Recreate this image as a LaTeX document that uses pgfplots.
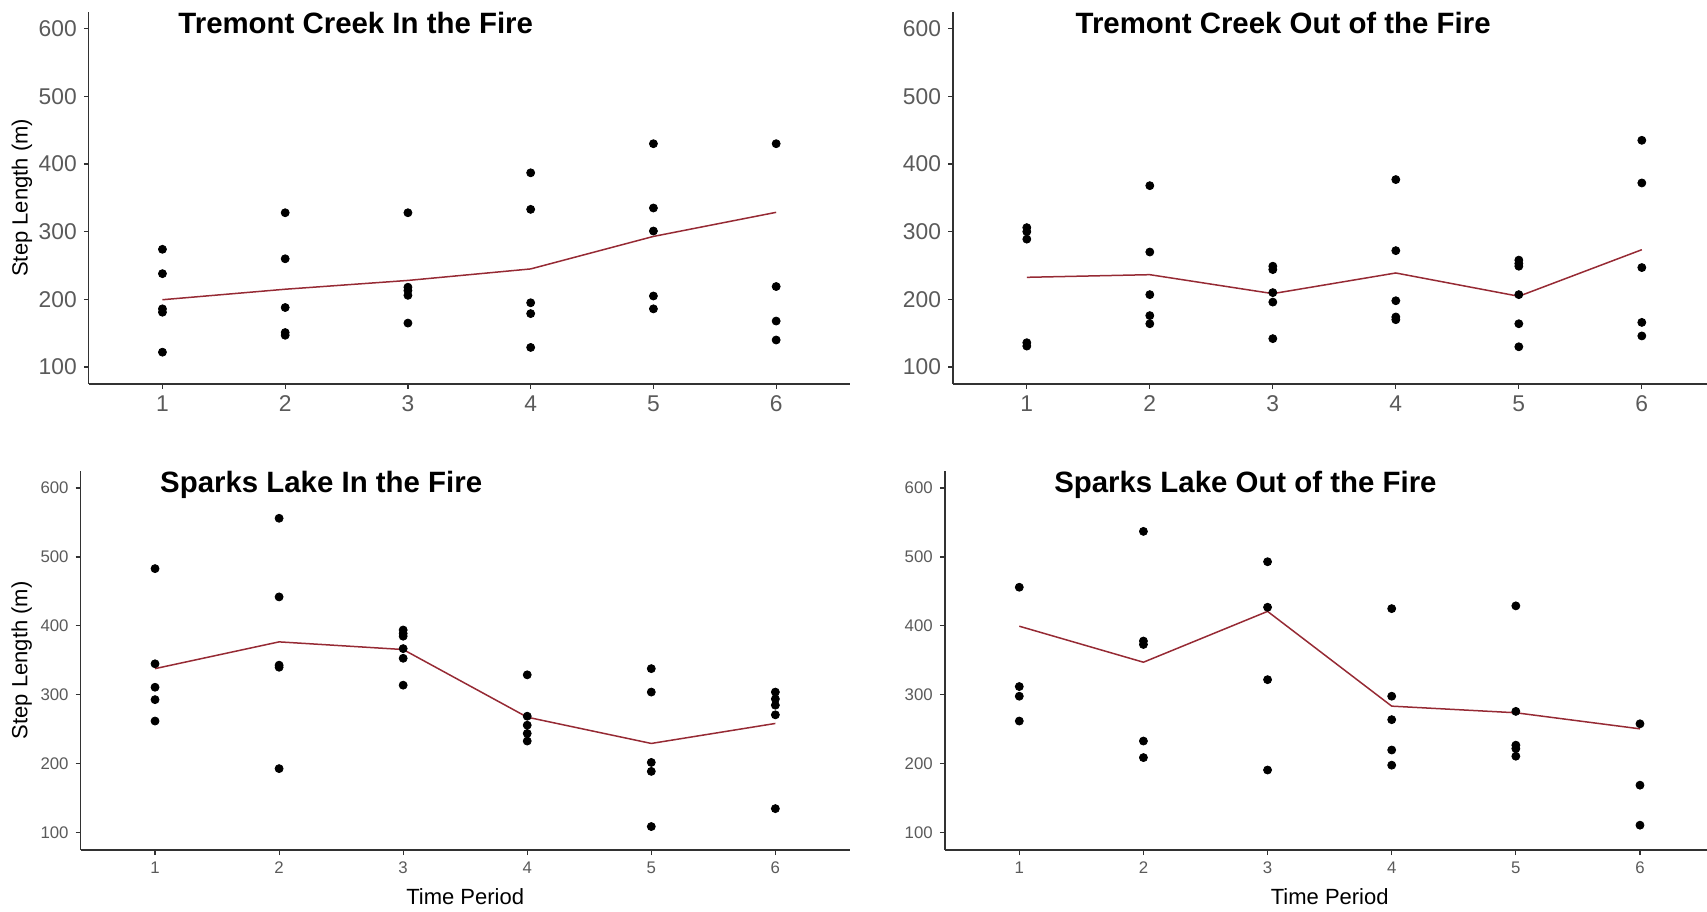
\documentclass[border=0pt]{standalone}
\usepackage{pgfplots}
\pgfplotsset{compat=1.18}
\usepackage{fontspec}
\setmainfont{Liberation Sans}
\definecolor{linered}{RGB}{150,42,52}
\definecolor{ticklab}{RGB}{90,90,90}
\definecolor{axisgray}{RGB}{50,50,50}
\tikzset{ttl/.style={anchor=base west, font=\bfseries\fontsize{14.7}{17}\selectfont}}
\pgfplotsset{
  panel/.style={
    scale only axis, anchor=south west, clip=false,
    xmin=0.4, ymin=75, ymax=625,
    axis x line=bottom, axis y line=left,
    axis line style={-, axisgray, line width=0.7pt},
    xtick={1,2,3,4,5,6}, ytick={100,200,300,400,500,600},
    tick align=outside, major tick length=2.5pt,
    tick style={axisgray, line width=0.6pt},
    /pgf/number format/assume math mode=true,
    ticklabel style={text=ticklab},
  },
  bigticks/.style={ticklabel style={font=\fontsize{11.4}{13}\selectfont}},
  smallticks/.style={ticklabel style={font=\fontsize{8.4}{10}\selectfont}},
  pts/.style={only marks, mark=*, mark size=2pt, black},
  mline/.style={no marks, linered, line width=0.75pt},
}
\begin{document}
\begin{tikzpicture}
\useasboundingbox (0,0) rectangle (853.5pt,455.5pt);
% Top left
\begin{axis}[panel, bigticks, at={(44.4pt,263.5pt)}, width=380.5pt, height=186.15pt, xmax=6.6,
  ylabel={Step Length (m)}, ylabel style={at={(axis description cs:-0.088,0.5)}, anchor=center, font=\fontsize{11}{13}\selectfont}]
\addplot[pts] coordinates {(1,274)(1,238)(1,186)(1,181)(1,122)
 (2,328)(2,260)(2,188)(2,151)(2,147)
 (3,328)(3,218)(3,213)(3,206)(3,165)
 (4,387)(4,333)(4,195)(4,179)(4,129)
 (5,430)(5,335)(5,301)(5,205)(5,186)
 (6,430)(6,219)(6,168)(6,140)};
\addplot[mline] coordinates {(1,199.5)(2,215)(3,228)(4,245)(5,293)(6,328.6)};
\node[ttl] at (axis cs:1.073,593.5) {Tremont Creek In the Fire};
\end{axis}
% Top right
\begin{axis}[panel, bigticks, at={(476.5pt,263.5pt)}, width=377pt, height=186.15pt, xmax=6.53]
\addplot[pts] coordinates {(1,306)(1,300)(1,289)(1,136)(1,131)
 (2,368)(2,270)(2,207)(2,176)(2,164)
 (3,249)(3,244)(3,210)(3,196)(3,142)
 (4,377)(4,272)(4,198)(4,174)(4,170)
 (5,258)(5,253)(5,249)(5,207)(5,164)(5,130)
 (6,435)(6,372)(6,247)(6,166)(6,146)};
\addplot[mline] coordinates {(1,232.6)(2,236.5)(3,208.5)(4,239)(5,204.6)(6,273.4)};
\node[ttl] at (axis cs:1.34,593.5) {Tremont Creek Out of the Fire};
\end{axis}
% Bottom left
\begin{axis}[panel, smallticks, at={(40.3pt,30.5pt)}, width=384.6pt, height=189.65pt, xmax=6.6,
  ylabel={Step Length (m)}, ylabel style={at={(axis description cs:-0.0765,0.5)}, anchor=center, font=\fontsize{11}{13}\selectfont},
  xlabel={Time Period}, xlabel style={at={(axis description cs:0.5,-0.124)}, anchor=center, font=\fontsize{11}{13}\selectfont}]
\addplot[pts] coordinates {(1,483)(1,345)(1,311)(1,293)(1,262)
 (2,556)(2,442)(2,343)(2,340)(2,193)
 (3,394)(3,389)(3,385)(3,367)(3,353)(3,314)
 (4,329)(4,269)(4,256)(4,244)(4,233)
 (5,338)(5,304)(5,202)(5,189)(5,109)
 (6,304)(6,294)(6,285)(6,271)(6,135)};
\addplot[mline] coordinates {(1,338)(2,376.8)(3,365.7)(4,267.6)(5,229.5)(6,258.5)};
\node[ttl] at (axis cs:0.985,592.7) {Sparks Lake In the Fire};
\end{axis}
% Bottom right
\begin{axis}[panel, smallticks, at={(472.4pt,30.5pt)}, width=381.1pt, height=189.65pt, xmax=6.54,
  xlabel={Time Period}, xlabel style={at={(axis description cs:0.505,-0.124)}, anchor=center, font=\fontsize{11}{13}\selectfont}]
\addplot[pts] coordinates {(1,456)(1,312)(1,298)(1,262)
 (2,537)(2,378)(2,373)(2,233)(2,209)
 (3,493)(3,427)(3,322)(3,191)
 (4,425)(4,298)(4,264)(4,220)(4,198)
 (5,429)(5,276)(5,227)(5,222)(5,211)
 (6,258)(6,169)(6,111)};
\addplot[mline] coordinates {(1,399.5)(2,347.3)(3,421)(4,283.6)(5,274)(6,250.7)};
\node[ttl] at (axis cs:1.225,592.7) {Sparks Lake Out of the Fire};
\end{axis}
\end{tikzpicture}
\end{document}
